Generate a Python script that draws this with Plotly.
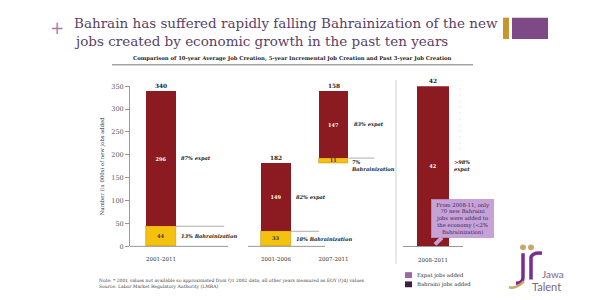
import plotly.graph_objects as go

# ---------------- data ----------------
categories = ["2001-2011", "2001-2006", "2007-2011"]
axis_categories = ["2001-2011", " ", "2001-2006", "2007-2011"]  # " " is an empty spacer slot
bahraini_jobs = [44, 33, 11]
expat_jobs = [296, 149, 147]
total_jobs = [340, 182, 158]
expat_labels = ["87% expat", "82% expat", "83% expat"]
bahrainization_labels = ["13% Bahrainization", "18% Bahrainization", "7%<br>Bahrainization"]

recent_category = ["2008-2011"]
recent_bahraini_jobs = [0.07]
recent_expat_jobs = [42]
recent_total_jobs = [42]
recent_expat_labels = ["&gt;98%<br>expat"]

y_tick_values = [0, 50, 100, 150, 200, 250, 300, 350]

title_lines = ["Bahrain has suffered rapidly falling Bahrainization of the new",
               "jobs created by economic growth in the past ten years"]
subtitle = ("Comparison of 10-year Average Job Creation, 5-year Incremental Job Creation "
            "and Past 3-year Job Creation")
y_axis_title = "Number (in 000s) of new jobs added"
callout_text = ("From 2008-11, only<br>70 new Bahraini<br>jobs were added to<br>"
                "the economy (&lt;2%<br>Bahrainization)")
legend_labels = ["Expat jobs added", "Bahraini jobs added"]
note_text = ("Note: * 2001 values not available so approximated from Q1 2002 data; all other years "
             "measured as EOY (Q4) values<br>Source: Labor Market Regulatory Authority (LMRA)")

# ---------------- styling / layout helpers ----------------
W, H = 600, 300
def px(x):
    return x / W
def py(y):
    return 1 - y / H

RED = "#8c1b21"
YELLOW = "#f4c10f"
TXT = "#333333"
AXIS = "#9a9a9a"
SERIF = "DejaVu Serif"
TITLE_COL = "#5b3f64"

Y0_PX, Y1_PX = 249, 84.5
LEFT_X0, LEFT_X1 = 130, 396
SLOT_PX = 57.5
FIRST_CENTER = 161
r0 = -(FIRST_CENTER - LEFT_X0) / SLOT_PX
r1 = r0 + (LEFT_X1 - LEFT_X0) / SLOT_PX
BAR_W = 0.52

# waterfall: third bar floats on top of the second
bahraini_base = [0, 0, total_jobs[1]]
expat_base = [b + v for b, v in zip(bahraini_base, bahraini_jobs)]
bar_tops = [b + t for b, t in zip(bahraini_base, total_jobs)]

fig = go.Figure()
fig.add_trace(go.Bar(
    x=categories, y=bahraini_jobs, base=bahraini_base, width=BAR_W,
    marker=dict(color=YELLOW, line=dict(color="#c89a10", width=0.6)),
    text=[str(v) for v in bahraini_jobs], textposition="inside", insidetextanchor="middle",
    textfont=dict(size=5, color=TXT, family=SERIF, weight="bold"),
    name="Bahraini", showlegend=False, hoverinfo="skip", xaxis="x", yaxis="y"))
fig.add_trace(go.Bar(
    x=categories, y=expat_jobs, base=expat_base, width=BAR_W,
    marker=dict(color=RED, line=dict(width=0)),
    text=[str(v) for v in expat_jobs], textposition="inside", insidetextanchor="middle",
    textfont=dict(size=5, color="white", family=SERIF, weight="bold"),
    name="Expat", showlegend=False, hoverinfo="skip", xaxis="x", yaxis="y"))

recent_expat_base = recent_bahraini_jobs[:]
fig.add_trace(go.Bar(
    x=recent_category, y=recent_bahraini_jobs, width=BAR_W,
    marker=dict(color="#3f1d48", line=dict(width=0)),
    showlegend=False, hoverinfo="skip", xaxis="x2", yaxis="y2"))
fig.add_trace(go.Bar(
    x=recent_category, y=recent_expat_jobs, base=recent_expat_base, width=BAR_W,
    marker=dict(color=RED, line=dict(width=0)),
    text=[str(v) for v in recent_expat_jobs], textposition="inside", insidetextanchor="middle",
    textfont=dict(size=5, color="white", family=SERIF, weight="bold"),
    showlegend=False, hoverinfo="skip", xaxis="x2", yaxis="y2"))

ann = []
shapes = []

def paper_text(x, y, text, font, xanchor="center", yanchor="middle", align="left"):
    ann.append(dict(x=px(x), y=py(y), xref="paper", yref="paper", xanchor=xanchor,
                    yanchor=yanchor, align=align, showarrow=False, text=text, font=font))

# totals above bars
for c, top, tot in zip(categories, bar_tops, total_jobs):
    ann.append(dict(x=c, y=top, xref="x", yref="y", xanchor="center", yanchor="bottom",
                    showarrow=False, text=f"<b>{tot}</b>",
                    font=dict(size=5.8, color="#222", family=SERIF)))
for c, tot in zip(recent_category, recent_total_jobs):
    ann.append(dict(x=c, y=tot, xref="x2", yref="y2", xanchor="center", yanchor="bottom",
                    showarrow=False, text=f"<b>{tot}</b>",
                    font=dict(size=5.8, color="#222", family=SERIF)))

# side labels
side_font = dict(size=5.1, color="#222", family=SERIF)
for i, c in enumerate(categories):
    ann.append(dict(x=c, y=expat_base[i] + expat_jobs[i] / 2, xref="x", yref="y",
                    xanchor="left", yanchor="middle", xshift=18, showarrow=False,
                    text=f"<b><i>{expat_labels[i]}</i></b>", font=side_font))
    lab = bahrainization_labels[i]
    if "<br>" in lab:
        ann.append(dict(x=c, y=expat_base[i], xref="x", yref="y", xanchor="left", yanchor="top",
                        xshift=15, yshift=1, showarrow=False, align="left",
                        text=f"<b><i>{lab}</i></b>", font=side_font))
    else:
        ann.append(dict(x=c, y=bahraini_base[i] + bahraini_jobs[i] / 2, xref="x", yref="y",
                        xanchor="left", yanchor="middle", xshift=18, showarrow=False,
                        text=f"<b><i>{lab}</i></b>", font=side_font))
for c, v, b, lab in zip(recent_category, recent_expat_jobs, recent_expat_base, recent_expat_labels):
    ann.append(dict(x=c, y=b + v / 2, xref="x2", yref="y2", xanchor="left", yanchor="middle",
                    xshift=19, showarrow=False, align="left",
                    text=f"<b><i>{lab}</i></b>", font=side_font))

# lines at top of Bahraini segments
line_ext = [0.84, 0.49, 0.45]
for i, c in enumerate(categories):
    slot = axis_categories.index(c)
    shapes.append(dict(type="line", xref="x", yref="y",
                       x0=slot + BAR_W / 2, x1=slot + BAR_W / 2 + line_ext[i],
                       y0=expat_base[i], y1=expat_base[i],
                       line=dict(color="#8a8a8a", width=0.7)))

# baseline segments, separator
for x0, x1 in [(130, 228), (248, 325)]:
    shapes.append(dict(type="line", xref="paper", yref="paper", x0=px(x0), x1=px(x1),
                       y0=py(Y0_PX), y1=py(Y0_PX), line=dict(color=AXIS, width=1)))
shapes.append(dict(type="line", xref="paper", yref="paper", x0=px(396), x1=px(396),
                   y0=py(78), y1=py(267), line=dict(color="#cfcfcf", width=1)))
shapes.append(dict(type="line", xref="paper", yref="paper", x0=px(460), x1=px(460),
                   y0=py(86), y1=py(150), line=dict(color="#e6e6e6", width=0.8, dash="dot")))

# title block
paper_text(57, 24.5, "+", dict(size=17, color="#a77cb0", family="DejaVu Sans"))
for k, line in enumerate(title_lines):
    paper_text(72, 20 + 17.5 * k, line, dict(size=13.5, color=TITLE_COL, family=SERIF),
               xanchor="left")
shapes.append(dict(type="rect", xref="paper", yref="paper", x0=px(503), x1=px(509),
                   y0=py(36), y1=py(14), fillcolor="#c8962e", line=dict(width=0)))
shapes.append(dict(type="rect", xref="paper", yref="paper", x0=px(512), x1=px(548),
                   y0=py(36), y1=py(14), fillcolor="#7d4a87", line=dict(width=0)))
paper_text(292, 56.5, f"<b>{subtitle}</b>", dict(size=5.3, color="#222", family=SERIF))
shapes.append(dict(type="line", xref="paper", yref="paper", x0=px(112), x1=px(473),
                   y0=py(62.5), y1=py(62.5), line=dict(color="#555", width=0.8)))

# callout
ann.append(dict(x=px(435), y=py(247), xref="paper", yref="paper", ax=27, ay=-26,
                axref="pixel", ayref="pixel", showarrow=True, arrowhead=0, arrowwidth=4,
                arrowcolor="#c6a2d6", text=callout_text, align="center",
                bgcolor="#c6a2d6", bordercolor="#b58fc8", borderwidth=0.5, borderpad=2,
                width=58, font=dict(size=5.3, color="#3b1f57", family=SERIF)))

# manual legend
leg_cols = ["#9c6aa3", "#3f1d48"]
for k, (lab, col) in enumerate(zip(legend_labels, leg_cols)):
    yc = 278.5 + 9.5 * k
    shapes.append(dict(type="rect", xref="paper", yref="paper", x0=px(405), x1=px(412),
                       y0=py(yc + 3), y1=py(yc - 3), fillcolor=col, line=dict(width=0)))
    paper_text(415, yc, lab, dict(size=5.3, color="#333", family=SERIF), xanchor="left")

# note
paper_text(97, 287.5, note_text, dict(size=4.5, color="#444", family=SERIF), xanchor="left")

# logo
shapes.append(dict(type="circle", xref="paper", yref="paper", x0=px(520), x1=px(526),
                   y0=py(253), y1=py(247), fillcolor="#c8a86a", line=dict(width=0)))
shapes.append(dict(type="circle", xref="paper", yref="paper", x0=px(528), x1=px(534),
                   y0=py(253), y1=py(247), fillcolor="#c8a86a", line=dict(width=0)))
shapes.append(dict(type="path", xref="paper", yref="paper",
                   path=f"M {px(523)},{py(256)} L {px(523)},{py(281)} Q {px(523)},{py(287)} {px(516)},{py(287)}",
                   line=dict(color="#7b2d8b", width=3.5)))
shapes.append(dict(type="path", xref="paper", yref="paper",
                   path=f"M {px(531)},{py(283)} L {px(531)},{py(260)} Q {px(533)},{py(255)} {px(542)},{py(256)}",
                   line=dict(color="#7b2d8b", width=3.5)))
shapes.append(dict(type="path", xref="paper", yref="paper",
                   path=f"M {px(509)},{py(291)} Q {px(516)},{py(293)} {px(524)},{py(285)}",
                   line=dict(color="#c8a86a", width=2.5)))
paper_text(540, 277, "Jawa", dict(size=10, color="#7a6483", family="Lato"), xanchor="left")
paper_text(530, 290, "Talent", dict(size=11, color="#7a6483", family="Lato"), xanchor="left")

fig.update_layout(
    width=W, height=H, margin=dict(l=0, r=0, t=0, b=0),
    paper_bgcolor="white", plot_bgcolor="rgba(0,0,0,0)",
    barmode="overlay", bargap=0, showlegend=False,
    uniformtext=dict(minsize=5, mode="show"),
    font=dict(family=SERIF, color=TXT),
    xaxis=dict(domain=[px(LEFT_X0), px(LEFT_X1)], type="category",
               categoryorder="array", categoryarray=axis_categories, range=[r0, r1],
               showline=False, ticks="", showgrid=False, zeroline=False, anchor="y",
               tickfont=dict(size=5.5, color="#333", family=SERIF), ticklabelstandoff=8),
    yaxis=dict(domain=[py(Y0_PX), py(Y1_PX)], range=[0, 350], tickvals=y_tick_values,
               showline=True, linecolor=AXIS, linewidth=1, ticks="outside", ticklen=4,
               tickcolor=AXIS, showgrid=False, zeroline=False, anchor="x",
               tickfont=dict(size=6.5, color="#555", family=SERIF),
               title=dict(text=y_axis_title, standoff=6,
                          font=dict(size=5.3, color="#333", family=SERIF))),
    xaxis2=dict(domain=[px(403), px(463)], type="category", range=[-0.5, 0.5],
                showline=True, linecolor=AXIS, linewidth=1, ticks="", showgrid=False,
                zeroline=False, anchor="y2",
                tickfont=dict(size=5.5, color="#333", family=SERIF), ticklabelstandoff=8),
    yaxis2=dict(domain=[py(Y0_PX), py(Y1_PX)], range=[0, max(recent_total_jobs)],
                visible=False, anchor="x2"),
    annotations=ann, shapes=shapes,
)

fig.write_html("out.html")
